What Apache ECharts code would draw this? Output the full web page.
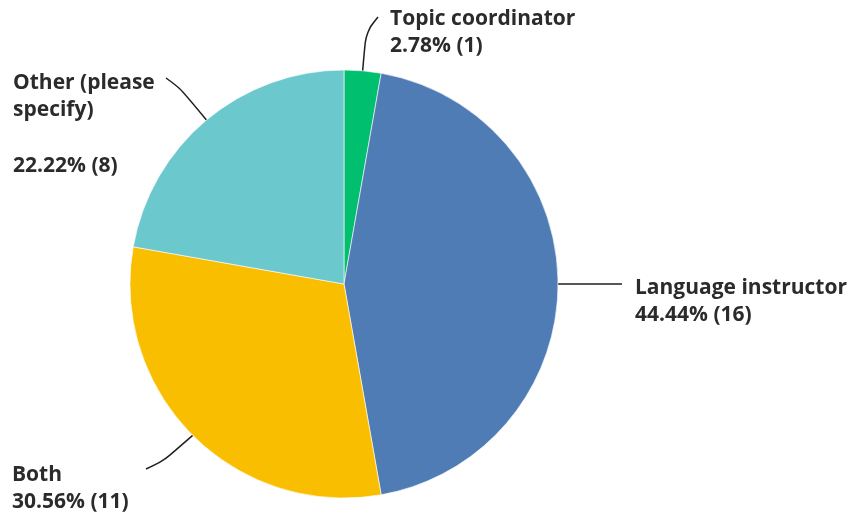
<!DOCTYPE html>
<html>
<head>
<meta charset="utf-8">
<script src="https://cdn.jsdelivr.net/npm/echarts@6/dist/echarts.min.js"></script>
<style>
  html, body { margin: 0; padding: 0; background: #ffffff; }
  #chart { width: 850px; height: 518px; }
</style>
</head>
<body>
<div id="chart"></div>
<script>
// Answer categories, respondent counts and shares (in drawing order, clockwise from 12 o'clock)
const categories = ['Topic coordinator', 'Language instructor', 'Both', 'Other (please\nspecify)'];
const counts = [1, 16, 11, 8];
const percents = [2.78, 44.44, 30.56, 22.22];
const colors = ['#00BF6F', '#507CB6', '#F9BE00', '#6BC8CD'];

// Label block placement, leader-line bends, and whether a spacer line separates name and share
const labelBoxes = [
  { x: 390, y: 6 },
  { x: 635, y: 275 },
  { x: 12, y: 462 },
  { x: 13, y: 70 }
];
const leaderBends = [
  [[366, 32], [378, 17]],
  [[590, 284], [622, 284]],
  [[162, 462], [146, 469]],
  [[180, 88], [166, 78]]
];
const spacerLine = [false, false, false, true];

const chart = echarts.init(document.getElementById('chart'), null, { renderer: 'canvas' });

const data = categories.map((name, i) => ({
  name: name,
  value: counts[i],
  pct: percents[i],
  itemStyle: { color: colors[i] }
}));

chart.setOption({
  backgroundColor: '#ffffff',
  animation: false,
  series: [{
    type: 'pie',
    center: [344, 284],
    radius: 214,
    startAngle: 90,
    clockwise: true,
    data: data,
    itemStyle: { borderColor: 'rgba(255,255,255,0.6)', borderWidth: 1 },
    label: {
      show: true,
      position: 'outside',
      formatter: p => p.name + (spacerLine[p.dataIndex] ? '\n{gap| }' : '') +
        '\n' + p.data.pct.toFixed(2) + '% (' + p.value + ')',
      color: '#2b2b2b',
      fontFamily: '"Open Sans", sans-serif',
      fontWeight: 'bold',
      fontSize: 21,
      lineHeight: 26.5,
      align: 'left',
      rich: {
        gap: { lineHeight: 30, fontSize: 21 }
      }
    },
    labelLine: {
      show: true,
      smooth: 0.35,
      lineStyle: { color: '#1f1f1f', width: 1.5 }
    },
    labelLayout: function (params) {
      const i = params.dataIndex;
      const start = params.labelLinePoints ? params.labelLinePoints[0] : null;
      const box = labelBoxes[i];
      const out = { x: box.x, y: box.y, align: 'left', verticalAlign: 'top' };
      if (start) {
        out.labelLinePoints = [start].concat(leaderBends[i]);
      }
      return out;
    }
  }]
});
</script>
</body>
</html>
